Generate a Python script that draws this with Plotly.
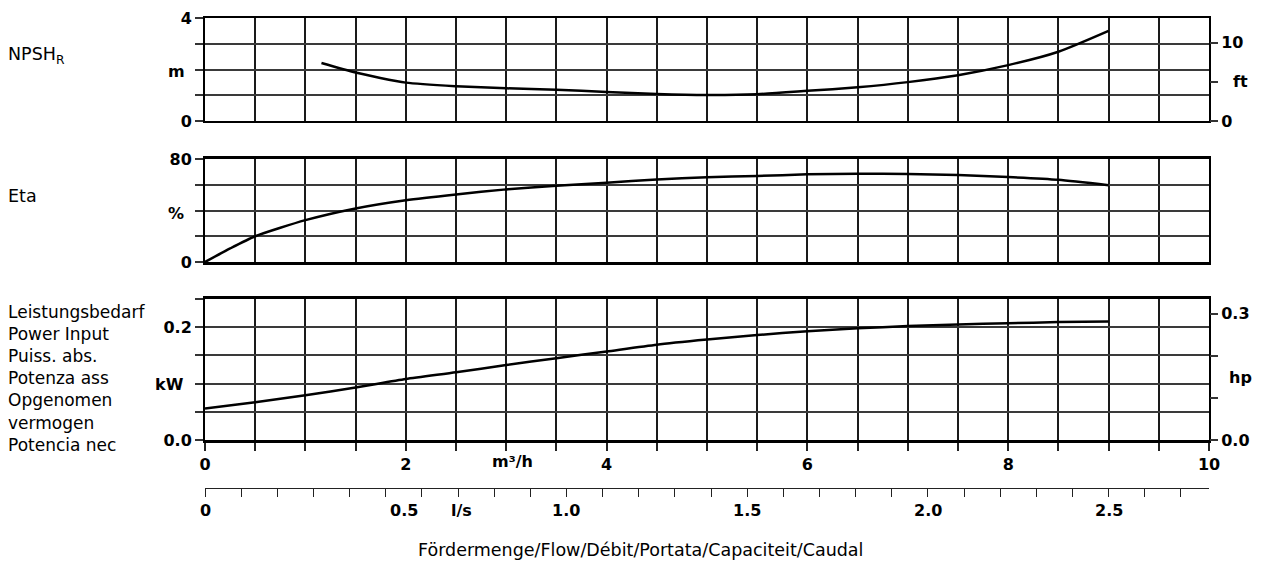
import numpy as np
import plotly.graph_objects as go

W, H = 1271, 563

# ---------------- data ----------------
flow_npsh = [1.16, 1.5, 2.0, 2.5, 3.0, 3.5, 4.0, 4.5, 5.0, 5.5, 6.0, 6.5, 7.0, 7.5, 8.0, 8.5, 9.0]
npsh_m = [2.25, 1.88, 1.49, 1.35, 1.27, 1.21, 1.13, 1.05, 1.01, 1.04, 1.17, 1.31, 1.51, 1.78, 2.17, 2.69, 3.50]

flow_eta = [0, 0.25, 0.5, 1.0, 1.5, 2.0, 2.5, 3.0, 3.5, 4.0, 4.5, 5.0, 5.5, 6.0, 6.5, 7.0, 7.5, 8.0, 8.5, 9.0]
eta_pct = [0, 10.5, 20, 32.5, 41.6, 48, 52.5, 56.4, 59.2, 61.6, 64, 65.8, 66.8, 68.1, 68.6, 68.3, 67.5, 66, 63.9, 59.7]

flow_pow = [0, 0.5, 1.0, 1.5, 2.0, 2.5, 3.0, 3.5, 4.0, 4.5, 5.0, 5.5, 6.0, 6.5, 7.0, 7.5, 8.0, 8.5, 9.0]
power_kw = [0.056, 0.067, 0.0795, 0.093, 0.108, 0.120, 0.133, 0.145, 0.157, 0.169, 0.178, 0.186, 0.193, 0.198, 0.202, 0.205, 0.207, 0.209, 0.210]

m3h_ticks = [0, 2, 4, 6, 8, 10]
ls_labels = ["0", "0.5", "1.0", "1.5", "2.0", "2.5"]
ls_label_pos = [0, 0.55, 1.0, 1.5, 2.0, 2.5]
power_labels = ["Leistungsbedarf", "Power Input", "Puiss. abs.", "Potenza ass",
                "Opgenomen", "vermogen", "Potencia nec"]
title_text = "Fördermenge/Flow/Débit/Portata/Capaciteit/Caudal"

M_TO_FT = 1 / 0.3048
KW_TO_HP = 1 / 0.7457
M3H_TO_LS = 1 / 3.6

# ---------------- layout helpers ----------------
def px(x):
    return x / W

def py(y):
    return 1 - y / H

X0, X1 = 205, 1209
FONT = "DejaVu Sans"
BOLD = dict(family=FONT, size=16, color="black", weight="bold")
REG = dict(family=FONT, size=17.5, color="black")
REG_BLOCK = dict(family=FONT, size=17, color="black")

fig = go.Figure()

line_style = dict(color="black", width=2.5, shape="spline", smoothing=0.6)
ghost = dict(color="rgba(0,0,0,0)", width=0)

fig.add_trace(go.Scatter(x=flow_npsh, y=npsh_m, xaxis="x", yaxis="y", mode="lines", line=line_style, hoverinfo="skip"))
fig.add_trace(go.Scatter(x=flow_npsh, y=[v * M_TO_FT for v in npsh_m], xaxis="x", yaxis="y4", mode="lines", line=ghost, hoverinfo="skip"))
fig.add_trace(go.Scatter(x=flow_eta, y=eta_pct, xaxis="x2", yaxis="y2", mode="lines", line=line_style, hoverinfo="skip"))
fig.add_trace(go.Scatter(x=flow_pow, y=power_kw, xaxis="x3", yaxis="y3", mode="lines", line=line_style, hoverinfo="skip"))
fig.add_trace(go.Scatter(x=flow_pow, y=[v * KW_TO_HP for v in power_kw], xaxis="x3", yaxis="y5", mode="lines", line=ghost, hoverinfo="skip"))
fig.add_trace(go.Scatter(x=[v * M3H_TO_LS for v in flow_pow], y=power_kw, xaxis="x4", yaxis="y3", mode="lines", line=ghost, hoverinfo="skip"))

xdom = [px(X0), px(X1)]
grid_x = dict(range=[0, 10], domain=xdom, showgrid=True, gridcolor="#1a1a1a", gridwidth=1.5,
              tick0=0, dtick=0.5, showline=True, linecolor="black", linewidth=2, mirror=True,
              zeroline=False, showticklabels=False, ticks="", fixedrange=True, automargin=False)

def ybase(rng, dom, vals, texts, lw=2):
    return dict(range=rng, domain=dom, tickvals=vals, ticktext=texts, ticks="outside", ticklen=8,
                tickcolor="#333", tickwidth=1.5, showgrid=True, gridcolor="#3a3a3a", gridwidth=1.5,
                showline=True, linecolor="black", linewidth=lw, mirror=True, zeroline=False,
                tickfont=BOLD, fixedrange=True, automargin=False)

top_dom = [py(121), py(18)]
mid_dom = [py(262), py(159)]
bot_dom = [py(440), py(299)]

xaxis3 = dict(grid_x)
xaxis3.update(tickvals=list(np.arange(0, 10.01, 0.5)),
              ticktext=[(str(int(v)) if (abs(v - round(v)) < 1e-9 and int(round(v)) in m3h_ticks) else "") for v in np.arange(0, 10.01, 0.5)],
              ticks="outside", ticklen=8, tickcolor="#222", tickwidth=1.5,
              showticklabels=True, tickfont=BOLD, anchor="y3", linewidth=2.5)

fig.update_layout(
    template="none",
    width=W, height=H, margin=dict(l=0, r=0, t=0, b=0, pad=0), autosize=False,
    paper_bgcolor="white", plot_bgcolor="white", showlegend=False,
    xaxis=dict(grid_x, anchor="y"),
    xaxis2=dict(grid_x, anchor="y2", linewidth=2.5),
    xaxis3=xaxis3,
    xaxis4=dict(overlaying="x3", anchor="free", position=py(488), side="bottom",
                range=[0, 10 * M3H_TO_LS], tickvals=list(np.round(np.arange(0, 2.75, 0.1), 2)),
                ticks="outside", ticklen=8, tickcolor="#222", tickwidth=1.2,
                showticklabels=False, showline=True, linecolor="#222", linewidth=1.2,
                showgrid=False, zeroline=False, fixedrange=True, automargin=False),
    yaxis=ybase([0, 4], top_dom, [0, 1, 2, 3, 4], ["0", "", "", "", "4"]),
    yaxis4=dict(overlaying="y", side="right", anchor="x", range=[0, 4 * M_TO_FT],
                tickvals=[0, 5, 10], ticktext=["0", "", "10"], ticks="outside", ticklen=8,
                tickcolor="#333", tickwidth=1.5, showgrid=False, showline=False, zeroline=False,
                tickfont=BOLD, fixedrange=True, automargin=False),
    yaxis2=ybase([0, 80], mid_dom, [0, 20, 40, 60, 80], ["0", "", "", "", "80"]),
    yaxis3=ybase([0, 0.25], bot_dom, [0, 0.05, 0.1, 0.15, 0.2, 0.25], ["0.0", "", "", "", "0.2", ""]),
    yaxis5=dict(overlaying="y3", side="right", anchor="x3", range=[0, 0.25 * KW_TO_HP],
                tickvals=[0, 0.1, 0.2, 0.3], ticktext=["0.0", "", "", "0.3"], ticks="outside", ticklen=8,
                tickcolor="#333", tickwidth=1.5, showgrid=False, showline=False, zeroline=False,
                tickfont=BOLD, fixedrange=True, automargin=False),
)

ann = []
def add_text(text, x, y, font, xanchor="center", yanchor="middle", align="left"):
    ann.append(dict(text=text, x=px(x), y=py(y), xref="paper", yref="paper", showarrow=False,
                    font=font, xanchor=xanchor, yanchor=yanchor, align=align))

# left side labels
add_text("NPSH<sub>R</sub>", 6, 55, REG, xanchor="left")
add_text("Eta", 6, 196, REG, xanchor="left")
add_text("<br>".join(power_labels), 6, 300, REG_BLOCK, xanchor="left", yanchor="top")

# unit labels
add_text("m", 176, 71, BOLD)
add_text("%", 176, 213, BOLD)
add_text("kW", 169, 384, BOLD)
add_text("ft", 1240, 82, BOLD)
add_text("hp", 1240, 377, BOLD)
add_text("m³/h", 512, 461, BOLD)

# l/s labels
for lab, v in zip(ls_labels, ls_label_pos):
    ann.append(dict(text=lab, x=v, y=py(510), xref="x4", yref="paper", showarrow=False,
                    font=BOLD, xanchor="center", yanchor="middle"))
ann.append(dict(text="l/s", x=0.71, y=py(510), xref="x4", yref="paper", showarrow=False,
                font=BOLD, xanchor="center", yanchor="middle"))

add_text(title_text, 640, 550, dict(family=FONT, size=17.5, color="black"))

fig.update_layout(annotations=ann)
fig.write_html("out.html")
